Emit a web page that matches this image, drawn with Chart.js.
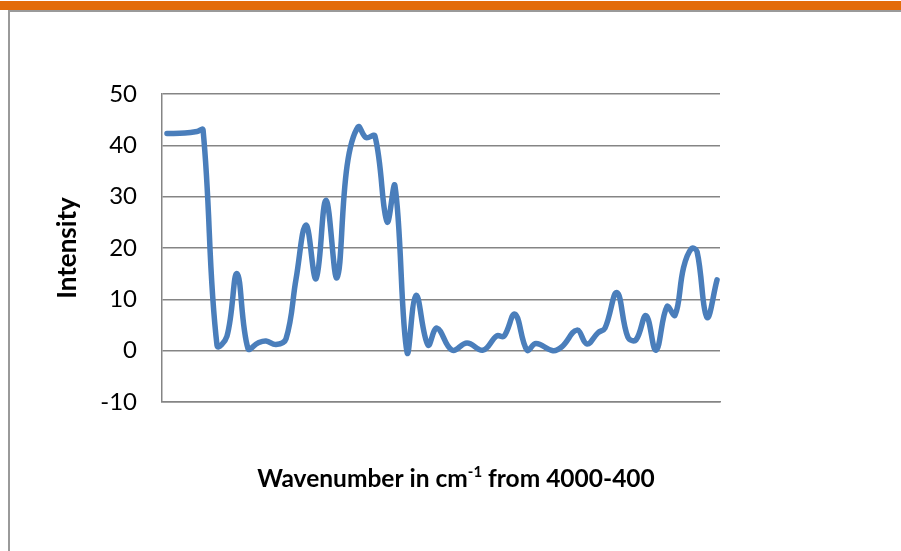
<!DOCTYPE html>
<html>
<head>
<meta charset="utf-8">
<script src="https://cdn.jsdelivr.net/npm/chart.js@4.4.1/dist/chart.umd.min.js"></script>
<style>
body { margin: 0; background: #fff; }
#wrap { position: relative; width: 901px; height: 551px; overflow: hidden; }
.bar { position: absolute; left: 0; top: 1px; width: 901px; height: 9px; background: #e36c09; }
.hline { position: absolute; left: 8px; top: 10px; width: 893px; height: 2px; background: #9a9a9a; }
.vline { position: absolute; left: 8px; top: 10px; width: 2px; height: 541px; background: #9a9a9a; }
canvas { position: absolute; left: 0; top: 0; }
</style>
</head>
<body>
<div id="wrap">
  <div class="bar"></div>
  <div class="hline"></div>
  <div class="vline"></div>
  <canvas id="spectrum" width="901" height="551"></canvas>
</div>
<script>
// values
const wavenumbers = [3968, 3852, 3774, 3735, 3645, 3581, 3516, 3445, 3381, 3329, 3265, 3200,
  3135, 3071, 3006, 2942, 2871, 2806, 2735, 2684, 2626, 2548, 2497, 2419,
  2361, 2284, 2226, 2129, 2032, 1929, 1839, 1794, 1723, 1645, 1587, 1477,
  1419, 1323, 1258, 1187, 1142, 1065, 994, 942, 877, 813, 742, 690,
  635, 584, 548, 484, 419];
const intensity = [42.3, 42.4, 42.7, 43.0, 1.0, 2.8, 15.0, 0.4, 1.5, 1.9, 1.2, 2.3,
  14, 24.5, 14, 29.3, 14.2, 36, 43.6, 41.5, 41.8, 25.1, 32.1, -0.3,
  10.8, 1.1, 4.4, 0.1, 1.5, 0.1, 2.9, 2.8, 7.1, 0.1, 1.4, 0,
  0.8, 4.0, 1.3, 3.5, 4.4, 11.3, 2.6, 2.1, 6.8, 0.1, 8.6, 6.9,
  16.2, 19.9, 19.3, 6.5, 13.8];
const yMin = -10;
const yMax = 50;
const yStep = 10;
const yTitle = 'Intensity';
const xTitleParts = ['Wavenumber in cm', '-1', ' from 4000-400'];

const points = wavenumbers.map((w, i) => ({ x: w, y: intensity[i] }));

const gridGrey = '#858585';
const fontFamily = 'Lato, "Open Sans", sans-serif';

// x axis title with a superscript
const xTitlePlugin = {
  id: 'xTitle',
  afterDraw(chart) {
    const ctx = chart.ctx;
    const big = 'bold 24.5px ' + fontFamily;
    const small = 'bold 15px ' + fontFamily;
    ctx.save();
    ctx.font = big;
    const w0 = ctx.measureText(xTitleParts[0]).width;
    const w2 = ctx.measureText(xTitleParts[2]).width;
    ctx.font = small;
    const w1 = ctx.measureText(xTitleParts[1]).width;
    let x = 456 - (w0 + w1 + w2) / 2;
    const base = 487;
    ctx.fillStyle = '#000';
    ctx.textBaseline = 'alphabetic';
    ctx.font = big;
    ctx.fillText(xTitleParts[0], x, base);
    x += w0;
    ctx.font = small;
    ctx.fillText(xTitleParts[1], x, base - 10);
    x += w1;
    ctx.font = big;
    ctx.fillText(xTitleParts[2], x, base);
    ctx.restore();
  }
};

new Chart(document.getElementById('spectrum'), {
  type: 'line',
  data: {
    datasets: [{
      data: points,
      borderColor: '#4a7ebb',
      borderWidth: 5.5,
      tension: 0.4,
      pointRadius: 0,
      borderCapStyle: 'round',
      borderJoinStyle: 'round',
      fill: false
    }]
  },
  options: {
    responsive: false,
    animation: false,
    layout: { padding: { left: 0, right: 181, top: 94, bottom: 149 } },
    plugins: { legend: { display: false }, tooltip: { enabled: false } },
    scales: {
      x: {
        type: 'linear',
        reverse: true,
        min: 400,
        max: 4000,
        ticks: { display: false },
        grid: { display: false, drawTicks: false },
        border: { display: true, color: gridGrey, width: 1.5 },
        afterFit: s => { s.height = 0; }
      },
      y: {
        min: yMin,
        max: yMax,
        ticks: { stepSize: yStep, padding: 25, color: '#000', font: { family: fontFamily, size: 24 } },
        grid: { color: gridGrey, lineWidth: 1.5, drawTicks: false },
        border: { color: gridGrey, width: 1.5 },
        title: {
          display: true,
          text: yTitle,
          color: '#000',
          font: { family: fontFamily, size: 26, weight: 'bold' },
          padding: { top: 52, bottom: 0 }
        },
        afterFit: s => { s.width = 162; }
      }
    }
  },
  plugins: [xTitlePlugin]
});
</script>
</body>
</html>
